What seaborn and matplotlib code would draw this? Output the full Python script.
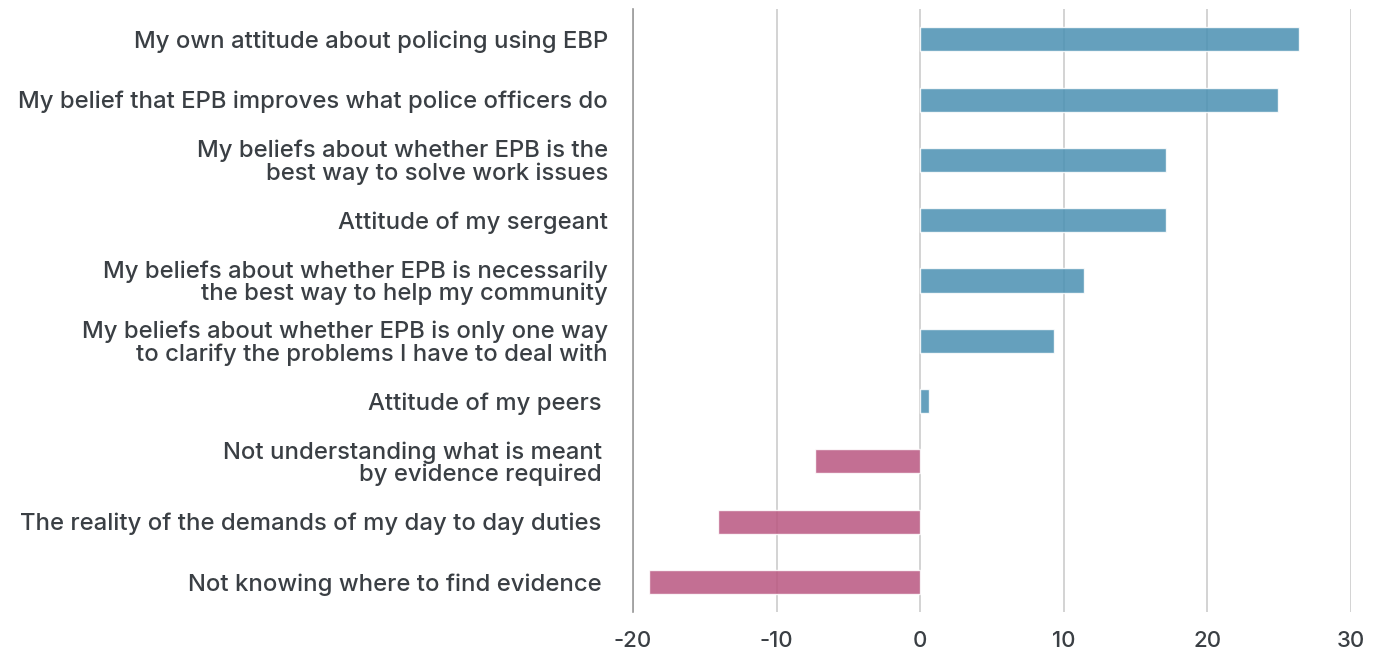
import pandas as pd
import seaborn as sns
import matplotlib.pyplot as plt

# --- data ---
labels = [
    'My own attitude about policing using EBP',
    'My belief that EPB improves what police officers do',
    'My beliefs about whether EPB is the\nbest way to solve work issues',
    'Attitude of my sergeant',
    'My beliefs about whether EPB is necessarily\nthe best way to help my community',
    'My beliefs about whether EPB is only one way\nto clarify the problems I have to deal with',
    'Attitude of my peers ',
    'Not understanding what is meant \nby evidence required ',
    'The reality of the demands of my day to day duties ',
    'Not knowing where to find evidence ',
]
values = [26.4, 24.9, 17.1, 17.1, 11.4, 9.3, 0.6, -7.3, -14.1, -18.9]
x_ticks = [-20, -10, 0, 10, 20, 30]

df = pd.DataFrame({'label': labels, 'value': values})
df['sign'] = ['pos' if v >= 0 else 'neg' for v in values]

sns.set_theme(style='white')
plt.rcParams['font.family'] = ['Inter', 'DejaVu Sans']
text_color = '#3a3f44'

fig = plt.figure(figsize=(13.8, 6.55), dpi=100)
ax = fig.add_axes([0.4587, 0.0656, 0.5203, 0.9204])

sns.barplot(data=df, y='label', x='value', hue='sign', orient='h',
            palette={'pos': '#4a90b2', 'neg': '#b95680'}, alpha=0.85,
            saturation=1, width=0.4, dodge=False, legend=False, ax=ax, zorder=3)

ax.set_xlim(-20, 30)
ax.set_xticks(x_ticks)
ax.set_xticklabels([str(t) for t in x_ticks], fontsize=16, fontweight='medium',
                   color=text_color)
ax.set_ylim(len(labels) - 0.5, -0.5)
for lab in ax.get_yticklabels():
    lab.set_fontsize(17.2)
    lab.set_fontweight('medium')
    lab.set_color(text_color)
    lab.set_linespacing(1.0)
ax.set_xlabel('')
ax.set_ylabel('')

ax.grid(axis='x', color='#cccccc', linewidth=1.2, zorder=0)
ax.tick_params(axis='both', length=0)
ax.tick_params(axis='x', pad=14)
ax.tick_params(axis='y', pad=18)
for side in ['top', 'right', 'bottom']:
    ax.spines[side].set_visible(False)
ax.spines['left'].set_color('#999999')
ax.spines['left'].set_linewidth(1.2)

fig.savefig('out.png', dpi=100)
